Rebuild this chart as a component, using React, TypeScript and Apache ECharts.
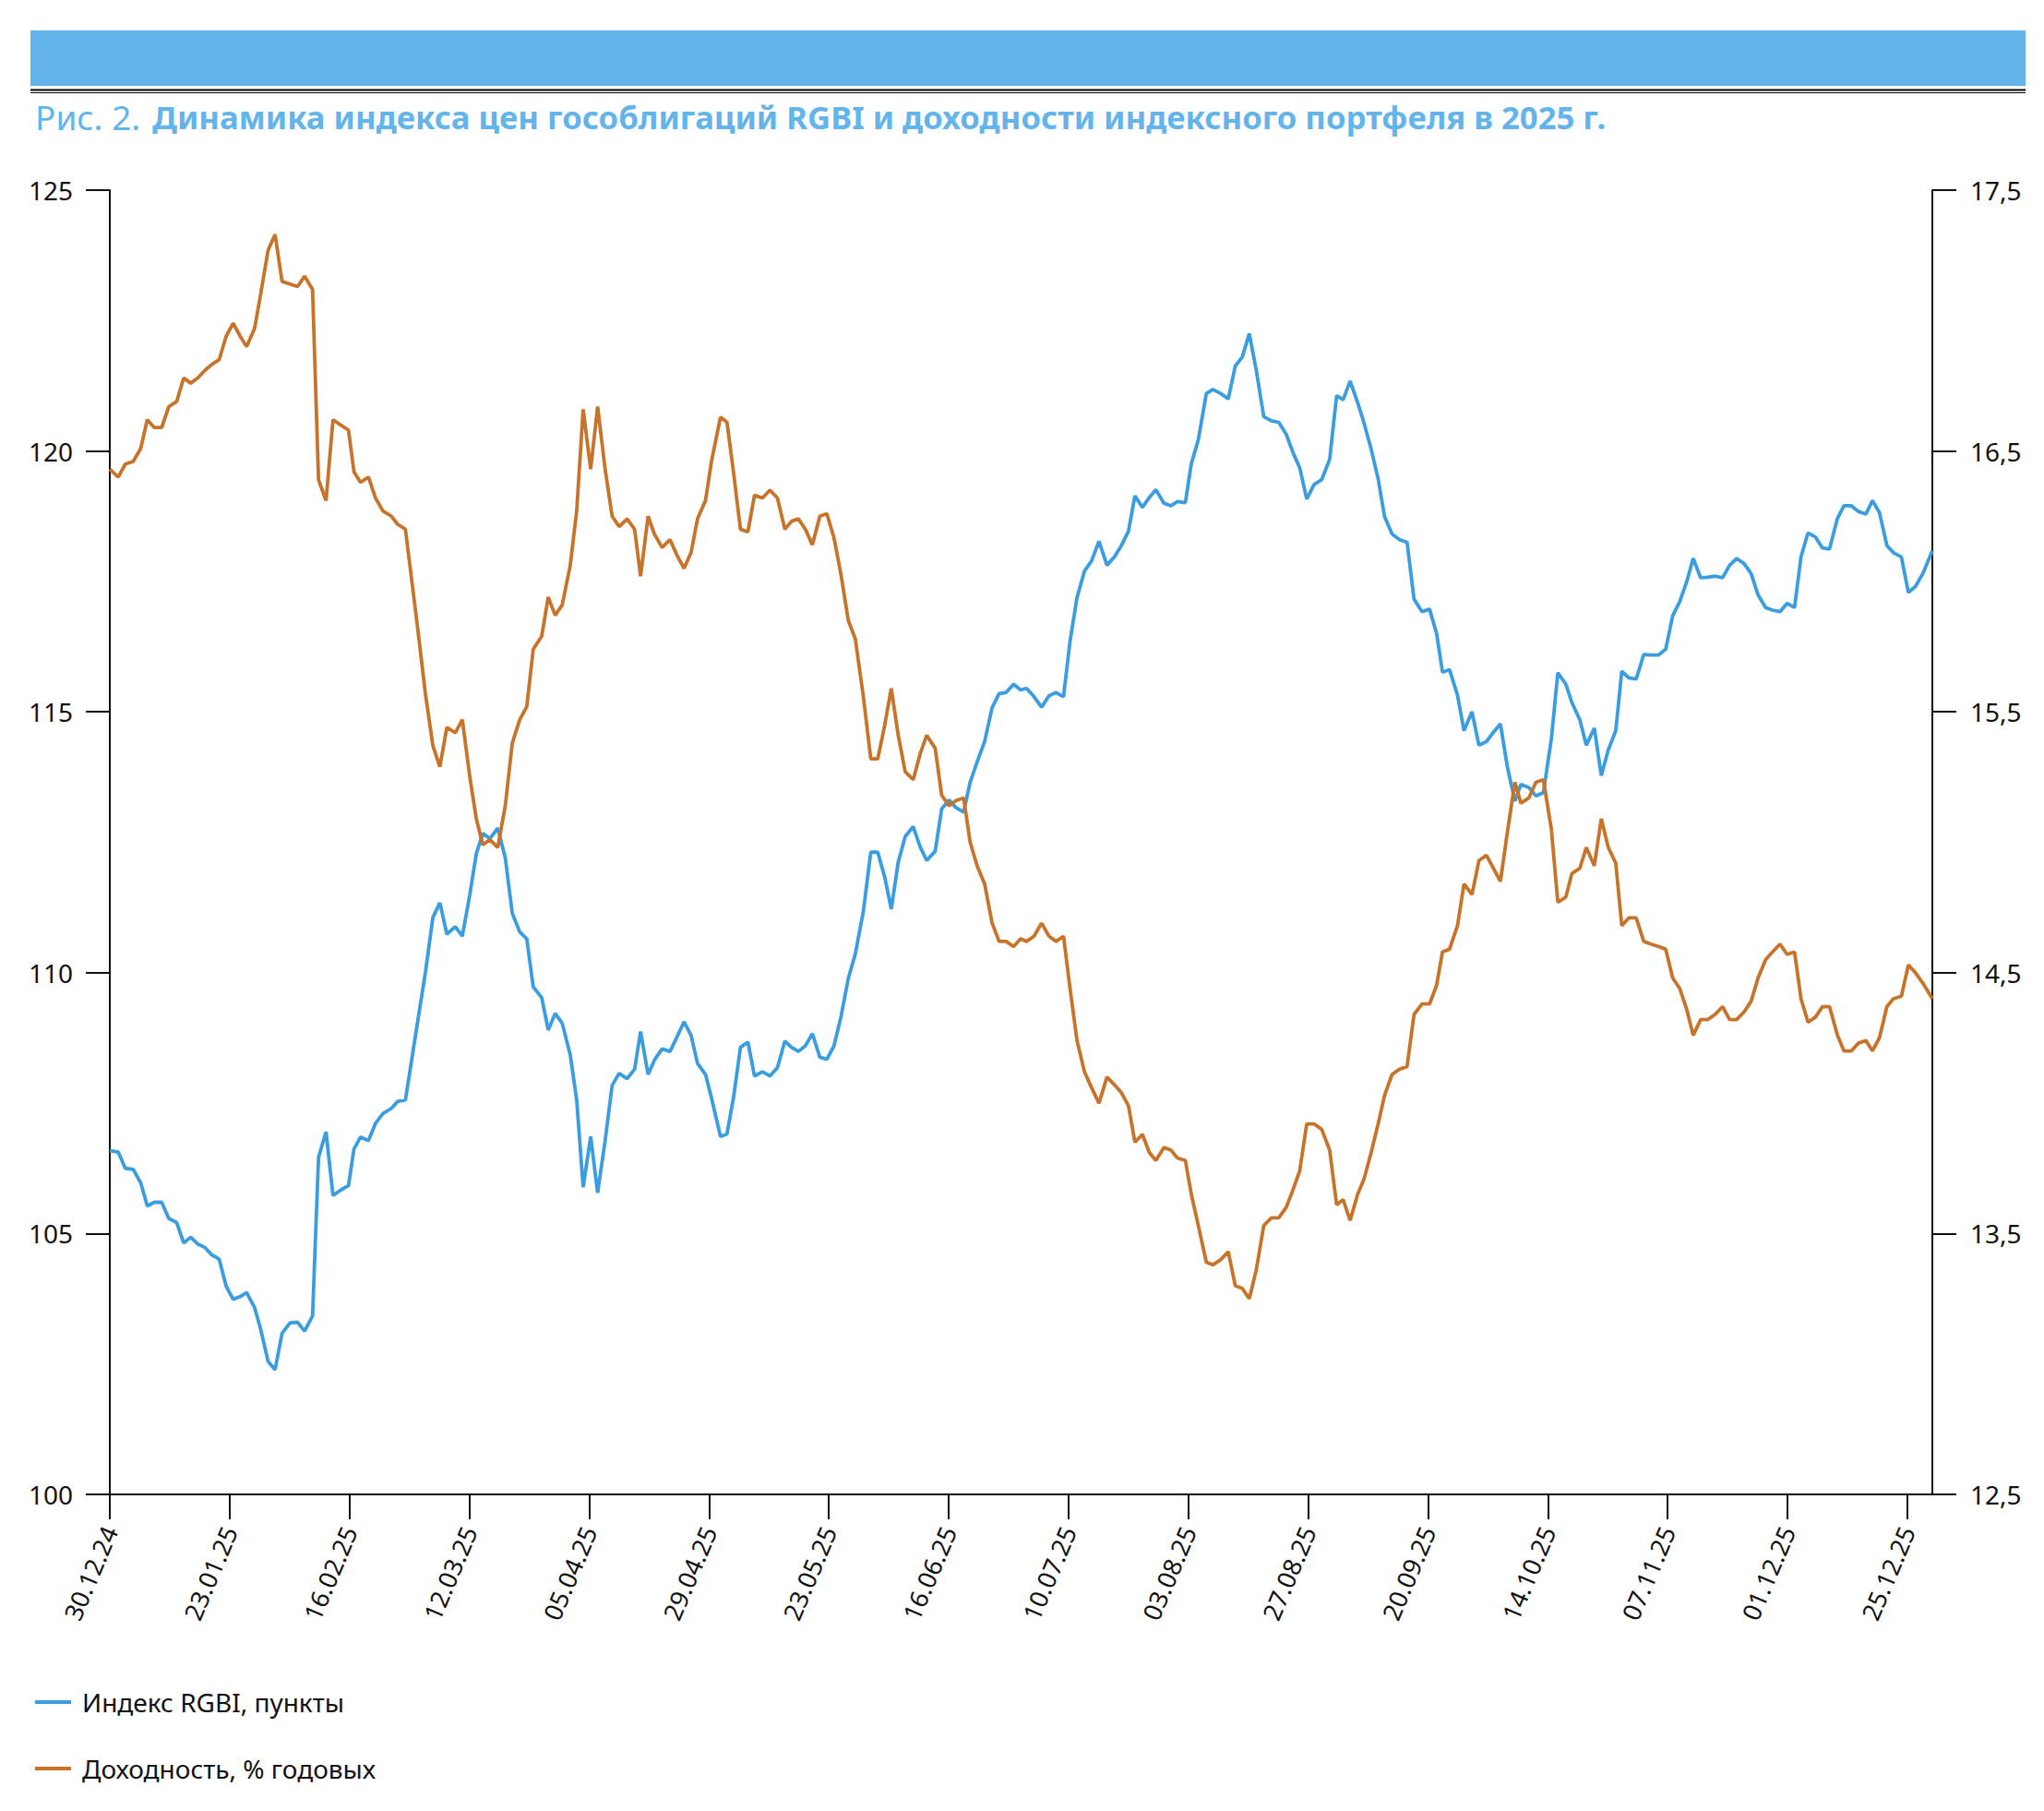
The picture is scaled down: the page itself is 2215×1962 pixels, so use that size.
import React, { useEffect, useRef } from 'react';
import * as echarts from 'echarts';

// X axis: day offsets from 30.12.24 and their tick labels
const xTickDays = [0, 24, 48, 72, 96, 120, 144, 168, 192, 216, 240, 264, 288, 312, 336, 360];
const xTickLabels = [
  '30.12.24', '23.01.25', '16.02.25', '12.03.25', '05.04.25', '29.04.25', '23.05.25', '16.06.25',
  '10.07.25', '03.08.25', '27.08.25', '20.09.25', '14.10.25', '07.11.25', '01.12.25', '25.12.25',
];
const rgbiTicks = [100, 105, 110, 115, 120, 125];
const yieldTicks = [12.5, 13.5, 14.5, 15.5, 16.5, 17.5];

// trading days (offset in days from 30.12.24)
const days = [
  0, 1.7, 3.1, 4.7, 6.2, 7.5, 8.9, 10.4, 11.8, 13.4, 14.8, 16.2, 17.6, 19.1, 20.3, 21.9, 23.3, 24.7, 26.1, 27.4,
  29.0, 30.2, 31.7, 33.1, 34.5, 36.1, 37.6, 39.0, 40.6, 41.8, 43.3, 44.7, 46.2, 47.8, 48.9, 50.2, 51.8, 53.2, 54.7, 56.4,
  57.6, 59.2,
  61.6, 63.2, 64.7, 66.1, 67.5, 69.2, 70.6, 72.1, 73.4, 74.7, 76.1, 77.7, 79.2, 80.6, 82.1, 83.5, 84.8, 86.5, 87.8, 89.2,
  90.6, 92.2, 93.5, 94.8, 96.3, 97.7, 99.2, 100.6, 102.0, 103.6, 105.1, 106.3, 107.8, 109.1, 110.6, 112.2, 113.6, 115.0,
  116.4, 117.7, 119.3, 120.5,
  122.3, 123.6, 124.9, 126.3, 127.8, 129.1, 130.7, 132.2, 133.7, 135.2, 136.5, 137.9, 139.3, 140.7, 142.2, 143.6, 145.0,
  146.4, 147.9, 149.3, 150.9, 152.4, 153.8, 155.2, 156.5, 157.9, 159.3, 160.9, 162.3, 163.6, 165.3, 166.6, 168.1, 169.5,
  171.0, 172.3, 173.7, 175.2, 176.7, 178.1, 179.5, 181.0, 182.4,
  183.6, 185.1, 186.6, 188.1, 189.5, 191.0, 192.3, 193.7, 195.2, 196.6, 198.1, 199.7, 201.2, 202.6, 204.0, 205.3, 206.8,
  208.2, 209.5, 211.1, 212.5, 213.8, 215.4, 216.6, 218.0, 219.6, 220.9, 222.5, 224.0, 225.4, 226.8, 228.2, 229.6, 231.1,
  232.6, 234.1, 235.6, 237.0, 238.3, 239.7, 241.2, 242.7,
  244.3, 245.7, 247.0, 248.4, 249.9, 251.2, 252.6, 254.0, 255.3, 256.8, 258.3, 259.8, 261.2, 262.8, 264.3, 265.7, 266.9,
  268.3, 269.9, 271.2, 272.8, 274.2, 275.7, 277.1, 278.5, 279.9, 281.4, 282.6, 284.2, 285.6, 287.1, 288.7, 290.0, 291.6,
  292.8, 294.4, 295.7, 297.3, 298.7, 300.1, 301.6, 302.8, 304.2,
  305.7, 307.2, 308.6, 310.2, 311.6, 313.0, 314.4, 315.8, 317.1, 318.6, 320.0, 321.5, 323.0, 324.4, 325.8, 327.3, 328.7,
  330.1, 331.6, 333.0, 334.5, 335.9, 337.4, 338.7, 340.1, 341.6, 343.0, 344.4, 346.0, 347.3, 348.8, 350.2, 351.7, 353.0,
  354.4, 355.9, 357.2, 358.8, 360.2, 361.6, 363.1, 365,
];

// RGBI index, points
const rgbiValues = [
  106.59, 106.56, 106.25, 106.23, 105.97, 105.53, 105.6, 105.6, 105.29, 105.21, 104.82, 104.93, 104.8, 104.73, 104.6,
  104.51, 103.99, 103.74, 103.79, 103.87, 103.58, 103.17, 102.55, 102.39, 103.09, 103.29, 103.3, 103.13, 103.42, 106.46,
  106.95, 105.73, 105.83, 105.92, 106.62, 106.85, 106.78, 107.11, 107.3, 107.4, 107.53, 107.56,
  109.03, 110.0, 111.06, 111.34, 110.74, 110.88, 110.7, 111.5, 112.28, 112.67, 112.57, 112.77, 112.2, 111.14, 110.78,
  110.65, 109.73, 109.52, 108.9, 109.22, 109.03, 108.43, 107.56, 105.89, 106.86, 105.78, 106.78, 107.84, 108.07, 107.97,
  108.15, 108.87, 108.05, 108.33, 108.54, 108.49, 108.77, 109.06, 108.8, 108.26, 108.05, 107.6,
  106.86, 106.91, 107.6, 108.57, 108.67, 108.02, 108.1, 108.02, 108.18, 108.69, 108.57, 108.49, 108.6, 108.83, 108.38,
  108.34, 108.59, 109.14, 109.89, 110.36, 111.17, 112.31, 112.31, 111.83, 111.22, 112.12, 112.61, 112.8, 112.41, 112.15,
  112.33, 113.14, 113.31, 113.16, 113.08, 113.65, 114.04, 114.43, 115.08, 115.35, 115.37, 115.53, 115.42,
  115.45, 115.29, 115.09, 115.31, 115.37, 115.29, 116.35, 117.19, 117.7, 117.89, 118.27, 117.81, 117.97, 118.19, 118.46,
  119.14, 118.92, 119.11, 119.26, 119.0, 118.95, 119.03, 119.01, 119.76, 120.22, 121.1, 121.18, 121.1, 121.0, 121.63,
  121.8, 122.25, 121.55, 120.66, 120.58, 120.55, 120.32, 119.96, 119.68, 119.08, 119.36, 119.45,
  119.84, 121.06, 120.98, 121.34, 120.93, 120.53, 120.04, 119.47, 118.74, 118.41, 118.3, 118.25, 117.16, 116.92, 116.97,
  116.51, 115.76, 115.81, 115.32, 114.64, 115.0, 114.36, 114.43, 114.61, 114.77, 113.94, 113.29, 113.61, 113.55, 113.39,
  113.45, 114.48, 115.75, 115.53, 115.18, 114.85, 114.36, 114.69, 113.78, 114.27, 114.64, 115.78, 115.65,
  115.63, 116.1, 116.09, 116.09, 116.2, 116.84, 117.11, 117.49, 117.94, 117.57, 117.58, 117.6, 117.57, 117.81, 117.94,
  117.84, 117.65, 117.24, 117.0, 116.95, 116.92, 117.08, 117.0, 117.97, 118.43, 118.35, 118.14, 118.12, 118.71, 118.95,
  118.95, 118.84, 118.79, 119.05, 118.82, 118.19, 118.05, 117.97, 117.29, 117.4, 117.65, 118.09,
];

// Yield of the index portfolio, % per annum
const yieldValues = [
  16.43, 16.4, 16.45, 16.46, 16.51, 16.62, 16.59, 16.59, 16.67, 16.69, 16.78, 16.76, 16.78, 16.81, 16.83, 16.85, 16.94,
  16.99, 16.94, 16.9, 16.97, 17.1, 17.27, 17.33, 17.15, 17.14, 17.13, 17.17, 17.12, 16.39, 16.31, 16.62, 16.6, 16.58,
  16.42, 16.38, 16.4, 16.32, 16.27, 16.25, 16.22, 16.2,
  15.83, 15.57, 15.37, 15.29, 15.44, 15.42, 15.47, 15.25, 15.09, 14.99, 15.01, 14.98, 15.14, 15.38, 15.47, 15.52, 15.74,
  15.79, 15.94, 15.87, 15.91, 16.06, 16.27, 16.66, 16.43, 16.67, 16.43, 16.25, 16.21, 16.24, 16.2, 16.02, 16.25, 16.18,
  16.13, 16.16, 16.1, 16.05, 16.11, 16.24, 16.31, 16.46,
  16.63, 16.61, 16.42, 16.2, 16.19, 16.33, 16.32, 16.35, 16.32, 16.2, 16.23, 16.24, 16.2, 16.14, 16.25, 16.26, 16.17,
  16.03, 15.85, 15.78, 15.56, 15.32, 15.32, 15.45, 15.59, 15.41, 15.27, 15.24, 15.34, 15.41, 15.36, 15.18, 15.14, 15.16,
  15.17, 15.0, 14.91, 14.84, 14.69, 14.62, 14.62, 14.6, 14.63,
  14.62, 14.64, 14.69, 14.64, 14.62, 14.64, 14.44, 14.24, 14.12, 14.06, 14.0, 14.1, 14.07, 14.04, 13.99, 13.85, 13.88,
  13.81, 13.78, 13.83, 13.82, 13.79, 13.78, 13.65, 13.53, 13.39, 13.38, 13.4, 13.43, 13.3, 13.29, 13.25, 13.36, 13.53,
  13.56, 13.56, 13.6, 13.67, 13.74, 13.92, 13.92, 13.9,
  13.82, 13.61, 13.63, 13.55, 13.65, 13.71, 13.81, 13.92, 14.03, 14.11, 14.13, 14.14, 14.34, 14.38, 14.38, 14.45, 14.58,
  14.59, 14.68, 14.84, 14.8, 14.93, 14.95, 14.9, 14.85, 15.04, 15.23, 15.15, 15.17, 15.23, 15.24, 15.05, 14.77, 14.79,
  14.88, 14.9, 14.98, 14.91, 15.09, 14.98, 14.92, 14.68, 14.71,
  14.71, 14.62, 14.61, 14.6, 14.59, 14.48, 14.44, 14.36, 14.26, 14.32, 14.32, 14.34, 14.37, 14.32, 14.32, 14.35, 14.39,
  14.48, 14.55, 14.58, 14.61, 14.57, 14.58, 14.4, 14.31, 14.33, 14.37, 14.37, 14.26, 14.2, 14.2, 14.23, 14.24, 14.2,
  14.25, 14.37, 14.4, 14.41, 14.53, 14.5, 14.46, 14.4,
];

const seriesNames = ['Индекс RGBI, пункты', 'Доходность, % годовых'];
const titlePrefix = 'Рис. 2.';
const titleText = 'Динамика индекса цен гособлигаций RGBI и доходности индексного портфеля в 2025 г.';

export default function App() {
  const ref = useRef<HTMLDivElement>(null);

  useEffect(() => {
    if (!ref.current) return;
    const chart = echarts.init(ref.current, null, { renderer: 'svg' });
    const font = "'Noto Sans', 'Open Sans', sans-serif";
    const blue = '#3A9DDF';
    const orange = '#C8732A';
    const titleBlue = '#63B4EA';
    const axisColor = '#111111';

    chart.setOption({
      animation: false,
      backgroundColor: '#ffffff',
      textStyle: { fontFamily: font },
      graphic: [
        { type: 'rect', shape: { x: 33, y: 33, width: 2162, height: 60 }, style: { fill: titleBlue } },
        { type: 'line', shape: { x1: 33, y1: 97.5, x2: 2195, y2: 97.5 }, style: { stroke: '#000', lineWidth: 2 } },
        { type: 'line', shape: { x1: 33, y1: 100.5, x2: 2195, y2: 100.5 }, style: { stroke: '#000', lineWidth: 1.2 } },
        {
          type: 'text', x: 38, y: 126,
          style: { text: titlePrefix, fontSize: 37, fontFamily: font, fontWeight: 'normal', fill: titleBlue, verticalAlign: 'middle' },
        },
        {
          type: 'text', x: 165, y: 126,
          style: { text: titleText, fontSize: 34.7, fontFamily: font, fontWeight: 'bold', fill: titleBlue, verticalAlign: 'middle' },
        },
      ],
      grid: { left: 119, right: 121, top: 206, bottom: 343, containLabel: false },
      legend: {
        orient: 'vertical',
        left: 33,
        top: 1823,
        icon: 'rect',
        itemWidth: 39,
        itemHeight: 4,
        itemGap: 40,
        selectedMode: false,
        data: seriesNames,
        textStyle: { fontSize: 28, fontFamily: font, color: axisColor, lineHeight: 32, padding: [0, 0, 0, 7] },
      },
      xAxis: {
        type: 'value',
        min: 0,
        max: 365,
        splitLine: { show: false },
        axisLine: { show: true, onZero: false, lineStyle: { color: axisColor, width: 2 } },
        axisTick: { show: true, length: 27, customValues: xTickDays, lineStyle: { color: axisColor, width: 2 } },
        axisLabel: {
          customValues: xTickDays,
          rotate: 67,
          margin: 36,
          fontSize: 27,
          fontFamily: font,
          color: axisColor,
          formatter: (v: number) => {
            const i = xTickDays.indexOf(Math.round(v));
            return i >= 0 ? xTickLabels[i] : '';
          },
        },
      },
      yAxis: [
        {
          type: 'value',
          min: 100,
          max: 125,
          interval: 5,
          position: 'left',
          splitLine: { show: false },
          axisLine: { show: true, lineStyle: { color: axisColor, width: 2 } },
          axisTick: { show: true, length: 26, customValues: rgbiTicks, lineStyle: { color: axisColor, width: 2 } },
          axisLabel: { customValues: rgbiTicks, margin: 40, fontSize: 28, fontFamily: font, color: axisColor },
        },
        {
          type: 'value',
          min: 12.5,
          max: 17.5,
          position: 'right',
          splitLine: { show: false },
          axisLine: { show: true, lineStyle: { color: axisColor, width: 2 } },
          axisTick: { show: true, length: 26, customValues: yieldTicks, lineStyle: { color: axisColor, width: 2 } },
          axisLabel: {
            customValues: yieldTicks,
            margin: 41,
            fontSize: 28,
            fontFamily: font,
            color: axisColor,
            formatter: (v: number) => v.toFixed(1).replace('.', ','),
          },
        },
      ],
      series: [
        {
          name: seriesNames[0],
          type: 'line',
          yAxisIndex: 0,
          showSymbol: false,
          symbol: 'none',
          color: blue,
          lineStyle: { color: blue, width: 3.8 },
          data: days.map((d, i) => [d, rgbiValues[i]]),
        },
        {
          name: seriesNames[1],
          type: 'line',
          yAxisIndex: 1,
          showSymbol: false,
          symbol: 'none',
          color: orange,
          lineStyle: { color: orange, width: 3.8 },
          data: days.map((d, i) => [d, yieldValues[i]]),
        },
      ],
    });

    return () => chart.dispose();
  }, []);

  return <div ref={ref} style={{ position: 'absolute', left: 0, top: 0, width: 2215, height: 1962 }} />;
}
